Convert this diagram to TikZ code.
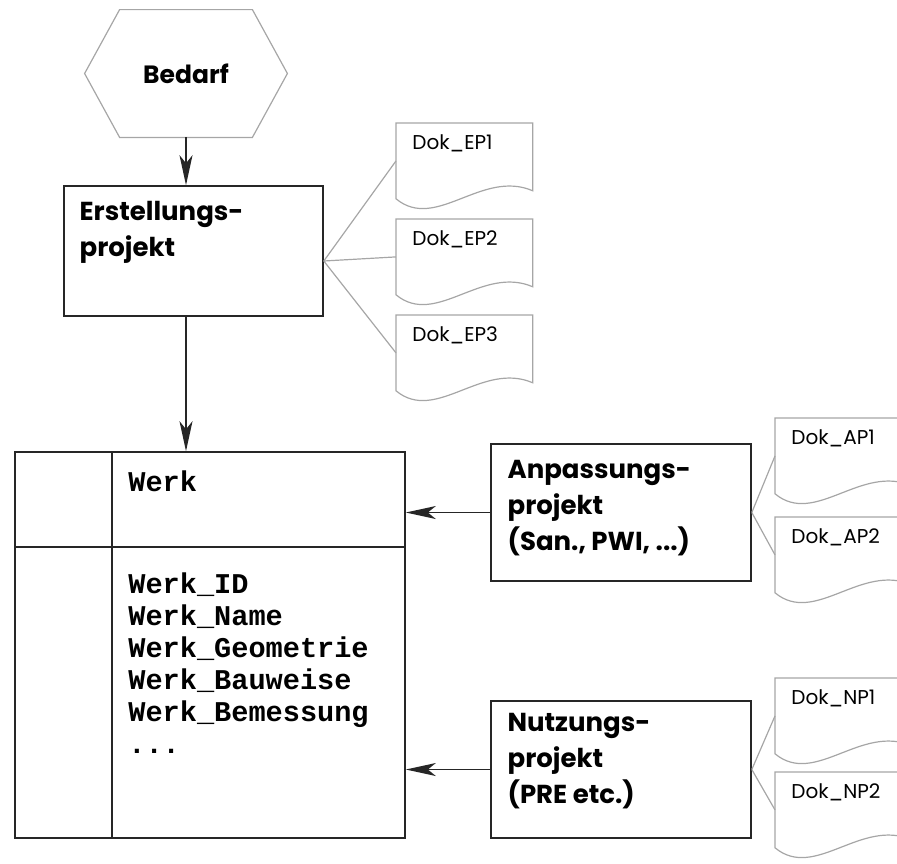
\documentclass[tikz,border=0pt]{standalone}
\usepackage{fontspec}
\setmainfont{Poppins}
\setmonofont{Liberation Mono}
\usetikzlibrary{arrows.meta}

\begin{document}
\begin{tikzpicture}[x=0.5pt,y=-0.5pt]
\tikzset{kasten/.style={draw=black!85,line width=0.8pt,rectangle}}
\tikzset{dokline/.style={draw=black!35,line width=0.6pt}}
\tikzset{dok/.style={anchor=north west,inner xsep=8pt,inner ysep=6pt,text width=52pt,text height=7pt,text depth=18.5pt,align=left,font=\fontsize{10}{12}\selectfont}}
\tikzset{projtext/.style={anchor=north west,inner sep=0pt,align=left,font=\fontsize{13}{18}\bfseries\selectfont}}
\tikzset{feld/.style={anchor=north west,inner sep=0pt,align=left,font=\fontsize{14.3}{16}\ttfamily\bfseries\selectfont}}
\tikzset{pfeil/.style={draw=black!85,line width=0.8pt,-{Stealth[length=15pt,width=6.5pt,inset=4pt]}}}

\useasboundingbox (0,0) rectangle (897,863);
\clip (0,0) rectangle (897,863);

\node[minimum width=66pt,minimum height=63.5pt,inner sep=0pt,font=\fontsize{12.5}{14}\bfseries\selectfont] (bedarf) at (186,73.5) {Bedarf};
\draw[dokline] (bedarf.north west) -- (bedarf.north east) -- ([xshift=17.5pt]bedarf.east) -- (bedarf.south east) -- (bedarf.south west) -- ([xshift=-17.5pt]bedarf.west) -- cycle;

\node[kasten,minimum width=129.5pt,minimum height=65pt] (erst) at (193.5,251) {};
\node[projtext] (erstText) at ([xshift=8pt,yshift=-8pt]erst.north west) {Erstellungs-\\projekt};

\node[kasten,minimum width=195pt,minimum height=193pt] (werk) at (210,645) {};
\draw[kasten] ([xshift=49pt]werk.north west) -- ([xshift=49pt]werk.south west);
\draw[kasten] ([yshift=-48pt]werk.north west) -- ([yshift=-48pt]werk.north east);
\node[feld] (werkName) at (128,470) {Werk};
\node[feld] (werkAttr) at (128,572) {Werk\_ID\\Werk\_Name\\Werk\_Geometrie\\Werk\_Bauweise\\Werk\_Bemessung\\...};

\node[kasten,minimum width=130pt,minimum height=68.5pt] (anp) at (621,512.5) {};
\node[projtext] (anpText) at ([xshift=8.5pt,yshift=-8.5pt]anp.north west) {Anpassungs-\\projekt\\(San., PWI, ...)};
\node[kasten,minimum width=130pt,minimum height=68.5pt] (nutz) at (621,769.5) {};
\node[projtext] (nutzText) at ([xshift=8.5pt,yshift=-6.5pt]nutz.north west) {Nutzungs-\\projekt\\(PRE etc.)};

\foreach \name/\x/\y/\txt in {ep1/396/123/EP1,ep2/396/219/EP2,ep3/396/315/EP3,ap1/775/418/AP1,ap2/775/517/AP2,np1/775/678/NP1,np2/775/772/NP2}{
  \node[dok] (\name) at (\x,\y) {Dok\_\txt};
  \draw[dokline] (\name.north west) -- (\name.north east) -- ([yshift=4pt]\name.south east) .. controls ([xshift=-25.5pt,yshift=15pt]\name.south east) and ([xshift=20pt,yshift=-16.5pt]\name.south west) .. (\name.south west) -- cycle;
}

\foreach \d in {ep1,ep2,ep3} \draw[dokline] ([yshift=-5pt]erst.east) -- (\d.west);
\foreach \d in {ap1,ap2} \draw[dokline] (anp.east) -- (\d.west);
\foreach \d in {np1,np2} \draw[dokline] (nutz.east) -- (\d.west);

\draw[pfeil] (bedarf.south) -- (bedarf.south |- erst.north);
\draw[pfeil] (bedarf.south |- erst.south) -- (bedarf.south |- werk.north);
\draw[pfeil] (anp.west) -- (anp.west -| werk.east);
\draw[pfeil] (nutz.west) -- (nutz.west -| werk.east);

\end{tikzpicture}
\end{document}
